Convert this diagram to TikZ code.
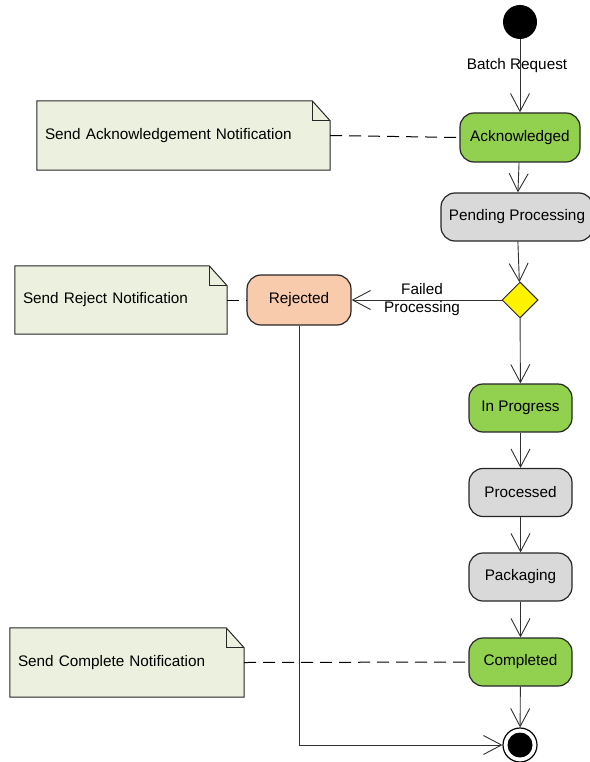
\documentclass[tikz,border=0pt]{standalone}
\usepackage{fontspec}
\setmainfont{Liberation Sans}
\usetikzlibrary{arrows.meta,shapes.geometric,backgrounds}
\definecolor{stgreen}{HTML}{92D050}
\definecolor{stgray}{HTML}{D9D9D9}
\definecolor{stpeach}{HTML}{F8CBAD}
\definecolor{notefill}{HTML}{EBF1DE}
\definecolor{edgecol}{HTML}{303030}
\newcommand\drawnotefold[1]{%
  \begin{pgfonlayer}{background}
  \draw[noteline] (#1.south west) -- (#1.north west) -- ([xshift=-18pt]#1.north east)
     -- ([yshift=-20pt]#1.north east) -- (#1.south east) -- cycle;
  \draw[noteline, fill=none] ([xshift=-18pt]#1.north east) |- ([yshift=-20pt]#1.north east);
  \end{pgfonlayer}}
\begin{document}
\begin{tikzpicture}[x=1pt,y=-1pt,
  every node/.style={font=\fontsize{15.3}{18}\selectfont},
  state/.style={draw=black!85, line width=1.2pt, rounded corners=14pt, inner sep=0pt, align=center},
  flow/.style={draw=edgecol, line width=0.9pt, -{Straight Barb[length=18pt,width=19pt,line width=0.9pt]}},
  dashlink/.style={draw=black, line width=1pt, dash pattern=on 12pt off 7pt},
  notebox/.style={inner xsep=8pt, inner ysep=0pt, align=left},
  noteline/.style={draw=black!85, line width=1pt, fill=notefill},
  startst/.style={circle, fill=black, minimum size=34pt, inner sep=0pt},
  endout/.style={circle, draw=black, line width=1.2pt, fill=white, minimum size=34pt, inner sep=0pt},
  endin/.style={circle, fill=black, minimum size=25pt, inner sep=0pt},
  decision/.style={diamond, draw=black!85, line width=1pt, fill=yellow, minimum width=36pt, minimum height=36pt, inner sep=0pt, aspect=1}
]
\useasboundingbox (0,0) rectangle (589,762);

% states
\node[startst] (start) at (520,22) {};
\node[state, fill=stgreen, minimum width=120pt, minimum height=49pt] (ack) at (520,137.5) {Acknowledged};
\node[state, fill=stgray, minimum width=152pt, minimum height=48pt] (pend) at (517,217) {Pending Processing};
\node[decision] (dia) at (520,300) {};
\node[state, fill=stpeach, minimum width=104pt, minimum height=50pt] (rej) at (299,300) {Rejected};
\node[state, fill=stgreen, minimum width=103pt, minimum height=48pt] (inprog) at (520.5,408) {In Progress};
\node[state, fill=stgray, minimum width=103pt, minimum height=48pt] (proc) at (520.5,492.5) {Processed};
\node[state, fill=stgray, minimum width=103pt, minimum height=48pt] (pack) at (520.5,577) {Packaging};
\node[state, fill=stgreen, minimum width=103pt, minimum height=48pt] (comp) at (520.5,662) {Completed};
\node[endout] (end) at (520,745) {};
\node[endin] (endc) at (end) {};

% notes
\node[notebox, minimum width=293pt, minimum height=69pt, text width=277pt] (n1) at (183.5,135.5) {Send Acknowledgement Notification};
\drawnotefold{n1}
\node[notebox, minimum width=212pt, minimum height=68pt, text width=196pt] (n2) at (121,300) {Send Reject Notification};
\drawnotefold{n2}
\node[notebox, minimum width=234pt, minimum height=69pt, text width=218pt] (n3) at (127,662.5) {Send Complete Notification};
\drawnotefold{n3}

% connectors
\draw[flow] (start) -- node[pos=0.36, xshift=-3pt] (lbl1) {Batch Request} (ack);
\draw[flow] (ack) -- (pend);
\draw[flow] (pend) -- (dia);
\draw[flow] (dia) -- node[pos=0.53, align=center] (lbl2) {Failed\\Processing} (rej);
\draw[flow] (dia) -- (inprog);
\draw[flow] (inprog) -- (proc);
\draw[flow] (proc) -- (pack);
\draw[flow] (pack) -- (comp);
\draw[flow] (comp) -- (end);
\draw[flow] (rej.south) |- (end.west);

\draw[dashlink] (n1.east) -- (ack.west);
\draw[dashlink] (n2.east) -- (rej.west);
\draw[dashlink] (n3.east) -- (comp.west);
\end{tikzpicture}
\end{document}
